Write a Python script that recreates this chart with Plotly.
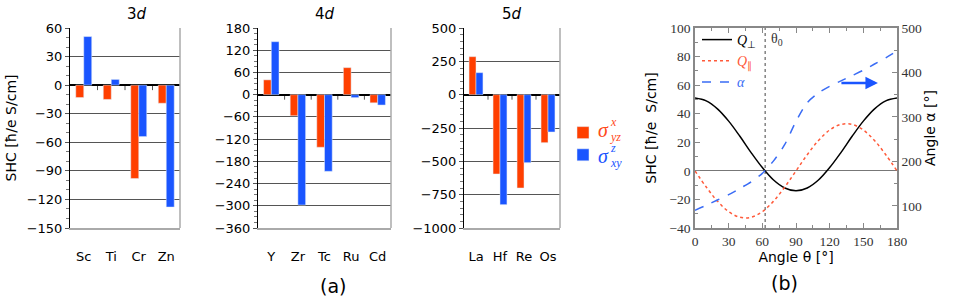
import plotly.graph_objects as go

# ---------------- data: panel (a) ----------------
cats_3d = ["Sc", "Ti", "Cr", "Zn"]
sx_3d = [-13, -15, -98, -19]
sz_3d = [51, 6, -54, -128]

cats_4d = ["Y", "Zr", "Tc", "Ru", "Cd"]
sx_4d = [40, -57, -142, 73, -22]
sz_4d = [143, -298, -207, -8, -28]

cats_5d = ["La", "Hf", "Re", "Os"]
sx_5d = [285, -595, -700, -360]
sz_5d = [165, -825, -510, -280]

# ---------------- data: panel (b) ----------------
theta = [0, 10, 20, 30, 40, 50, 60, 70, 80, 90, 100, 110, 120, 130, 140, 150, 160, 170, 180]
q_perp = [51, 49.0, 43.4, 34.8, 24.2, 12.8, 2.3, -6.4, -12.0, -14.0, -12.0, -6.4, 2.3, 12.8, 24.2, 34.8, 43.4, 49.0, 51]
q_par = [0, -11.3, -21.2, -28.6, -32.5, -32.5, -28.6, -21.2, -11.3, 0, 11.3, 21.2, 28.6, 32.5, 32.5, 28.6, 21.2, 11.3, 0]
alpha = [90, 101, 113, 125, 139, 154, 173, 201, 238, 290, 332, 354, 369, 381, 393, 405, 419, 433, 448]
theta0 = 62.5

RED = "#ff3f00"
BLUE = "#1a55ff"
RED_T = "#ff4a1a"
SANS = "DejaVu Sans"
SERIF = "Liberation Serif"

W, H = 954, 304
def px(x0, x1):
    return [x0 / W, x1 / W]
YDOM = [1 - 228 / H, 1 - 28 / H]

fig = go.Figure()

panels = [
    (cats_3d, sx_3d, sz_3d, "x", "y", [-150, 60], 30, 10),
    (cats_4d, sx_4d, sz_4d, "x2", "y2", [-360, 180], 60, 15),
    (cats_5d, sx_5d, sz_5d, "x3", "y3", [-1000, 500], 250, 50),
]
for i, (cats, sx, sz, xa, ya, rng, dt, mdt) in enumerate(panels):
    fig.add_trace(go.Bar(x=cats, y=sx, xaxis=xa, yaxis=ya, marker_color=RED,
                         name=" ", legendgroup="a", showlegend=(i == 0), legend="legend"))
    fig.add_trace(go.Bar(x=cats, y=sz, xaxis=xa, yaxis=ya, marker_color=BLUE,
                         name=" ", legendgroup="b", showlegend=(i == 0), legend="legend"))
    # small tick marks on the zero line between categories
    tl = (rng[1] - rng[0]) * 5 / 200
    for k in range(len(cats) - 1):
        fig.add_shape(type="line", xref=xa, yref=ya, x0=k + 0.5, x1=k + 0.5, y0=0, y1=-tl,
                      line=dict(color="#555", width=1), layer="below")
    # right border
    fig.add_shape(type="line", xref=xa + " domain", yref=ya + " domain", x0=1, x1=1, y0=0, y1=1,
                  line=dict(color="#aaa", width=1.5))

# ---------------- panel (b) ----------------
fig.add_trace(go.Scatter(x=[theta0, theta0], y=[-40, 100], xaxis="x4", yaxis="y4", mode="lines",
                         line=dict(color="#444", width=1, dash="dot"), showlegend=False, hoverinfo="skip"))
fig.add_trace(go.Scatter(x=theta, y=q_perp, xaxis="x4", yaxis="y4", mode="lines",
                         line=dict(color="black", width=1.5, shape="spline"),
                         name='<span style="color:black"><i>Q</i><sub>⊥</sub></span>', legend="legend2"))
fig.add_trace(go.Scatter(x=theta, y=q_par, xaxis="x4", yaxis="y4", mode="lines",
                         line=dict(color="#ff5a3a", width=1.5, dash="dot", shape="spline"),
                         name='<span style="color:#ff5a3a"><i>Q</i><sub>∥</sub></span>', legend="legend2"))
fig.add_trace(go.Scatter(x=theta, y=alpha, xaxis="x4", yaxis="y5", mode="lines",
                         line=dict(color="#3a6cf5", width=1.5, dash="dash", shape="spline", smoothing=0.8),
                         name='<span style="color:#3a6cf5"><i>α</i></span>', legend="legend2"))

tickfont_a = dict(family=SANS, size=13, color="black")
common_x = dict(type="category", showgrid=False, ticks="", tickfont=tickfont_a,
                showline=True, linecolor="#aaa", linewidth=1.5, ticklabelstandoff=16,
                fixedrange=True)

layout = dict(
    width=W, height=H, margin=dict(l=0, r=0, t=0, b=0, autoexpand=False),
    paper_bgcolor="white", plot_bgcolor="white",
    font=dict(family=SANS, color="black"),
    barmode="group", bargap=0.42, bargroupgap=0,
    showlegend=True,
    legend=dict(x=563 / W, y=1 - 117 / H, xanchor="left", yanchor="top",
                font=dict(family=SERIF, size=14, color="black"), bgcolor="rgba(0,0,0,0)",
                tracegroupgap=1, itemwidth=30),
    legend2=dict(x=697 / W, y=1 - 24 / H, xanchor="left", yanchor="top",
                 font=dict(family=SERIF, size=14), bgcolor="rgba(0,0,0,0)", tracegroupgap=0),
)

xdoms = [px(70, 180), px(258, 391), px(464, 560)]
for i, (cats, sx, sz, xa, ya, rng, dt, mdt) in enumerate(panels):
    sfx = "" if i == 0 else str(i + 1)
    layout["xaxis" + sfx] = dict(common_x, domain=xdoms[i], anchor="y" + sfx, categoryorder="array",
                                 categoryarray=cats)
    layout["yaxis" + sfx] = dict(domain=YDOM, anchor="x" + sfx, range=rng, dtick=dt, tick0=0,
                                 showgrid=True, gridcolor="#555", gridwidth=1,
                                 zeroline=True, zerolinecolor="black", zerolinewidth=1.5,
                                 showline=True, linecolor="black", linewidth=1,
                                 ticks="outside", ticklen=4, tickcolor="#555", tickfont=tickfont_a,
                                 minor=dict(dtick=mdt, ticks="outside", ticklen=3, tickcolor="#777", showgrid=False),
                                 fixedrange=True)

layout["yaxis"]["title"] = dict(text="SHC [ħ/e S/cm]", font=dict(family=SANS, size=14, color="black"), standoff=6)

tickfont_b = dict(family=SERIF, size=13.5, color="#333")
layout["xaxis4"] = dict(domain=px(695, 897), anchor="y4", range=[0, 180], dtick=30, tick0=0,
                        showgrid=False, zeroline=False, showline=True, mirror="ticks",
                        linecolor="#888", linewidth=1.5, ticks="inside", ticklen=5, tickcolor="#888",
                        minor=dict(dtick=15, ticks="inside", ticklen=3, tickcolor="#888"),
                        tickfont=tickfont_b,
                        title=dict(text="Angle θ [°]", font=dict(family=SANS, size=14, color="black"), standoff=1))
layout["yaxis4"] = dict(domain=YDOM, anchor="x4", range=[-40, 100], dtick=20, tick0=0,
                        showgrid=False, zeroline=True, zerolinecolor="#777", zerolinewidth=1,
                        showline=True, linecolor="#888", linewidth=1.5, ticks="inside", ticklen=5,
                        tickcolor="#888", minor=dict(dtick=10, ticks="inside", ticklen=3, tickcolor="#888"),
                        tickfont=tickfont_b,
                        title=dict(text="SHC [ħ/e  S/cm]", font=dict(family=SANS, size=14, color="black"), standoff=10))
layout["yaxis5"] = dict(overlaying="y4", side="right", anchor="x4", range=[50, 500], dtick=100, tick0=0,
                        showgrid=False, zeroline=False, showline=True, linecolor="#888", linewidth=1.5,
                        ticks="inside", ticklen=5, tickcolor="#888",
                        minor=dict(dtick=50, ticks="inside", ticklen=3, tickcolor="#888"),
                        tickfont=tickfont_b,
                        title=dict(text="Angle α [°]", font=dict(family=SANS, size=14, color="black"), standoff=4))

annotations = []
for i, t in enumerate(["3<i>d</i>", "4<i>d</i>", "5<i>d</i>"]):
    d = xdoms[i]
    annotations.append(dict(x=(d[0] + d[1]) / 2, y=1 - 14 / H, xref="paper", yref="paper",
                            text=t, showarrow=False, yanchor="middle", font=dict(family=SANS, size=15)))
annotations.append(dict(x=333 / W, y=1 - 286 / H, xref="paper", yref="paper", text="(a)",
                        showarrow=False, yanchor="middle", font=dict(family=SANS, size=19)))
annotations.append(dict(x=800 / W, y=1 - 283 / H, xref="paper", yref="paper", text="(b)",
                        showarrow=False, yanchor="middle", font=dict(family=SANS, size=19)))
# legend text for (a): sigma with stacked super/subscripts
for (yc, col, sup, sub) in [(130, RED_T, "x", "yz"), (156, BLUE, "z", "xy")]:
    annotations += [
        dict(x=596 / W, y=1 - yc / H, xref="paper", yref="paper", text="<i>σ</i>", showarrow=False,
             xanchor="left", yanchor="middle", font=dict(family=SERIF, size=20, color=col)),
        dict(x=609 / W, y=1 - (yc - 8) / H, xref="paper", yref="paper", text="<i>%s</i>" % sup,
             showarrow=False, xanchor="left", yanchor="middle", borderpad=0,
             font=dict(family=SERIF, size=12, color=col)),
        dict(x=609 / W, y=1 - (yc + 7) / H, xref="paper", yref="paper", text="<i>%s</i>" % sub,
             showarrow=False, xanchor="left", yanchor="middle", borderpad=0,
             font=dict(family=SERIF, size=12, color=col)),
    ]
annotations.append(dict(x=theta0 + 3, y=92, xref="x4", yref="y4", text="θ<sub>0</sub>", showarrow=False,
                        xanchor="left", font=dict(family=SERIF, size=14, color="#333")))
annotations.append(dict(x=163, y=376, xref="x4", yref="y5", ax=-38, ay=0, text="", showarrow=True,
                        arrowhead=2, arrowsize=1, arrowwidth=2.5, arrowcolor="#1a55ff"))
layout["annotations"] = annotations

fig.update_layout(**layout)
fig.write_html("out.html", post_script="document.body.style.margin='0';",
               config={"displayModeBar": False})
